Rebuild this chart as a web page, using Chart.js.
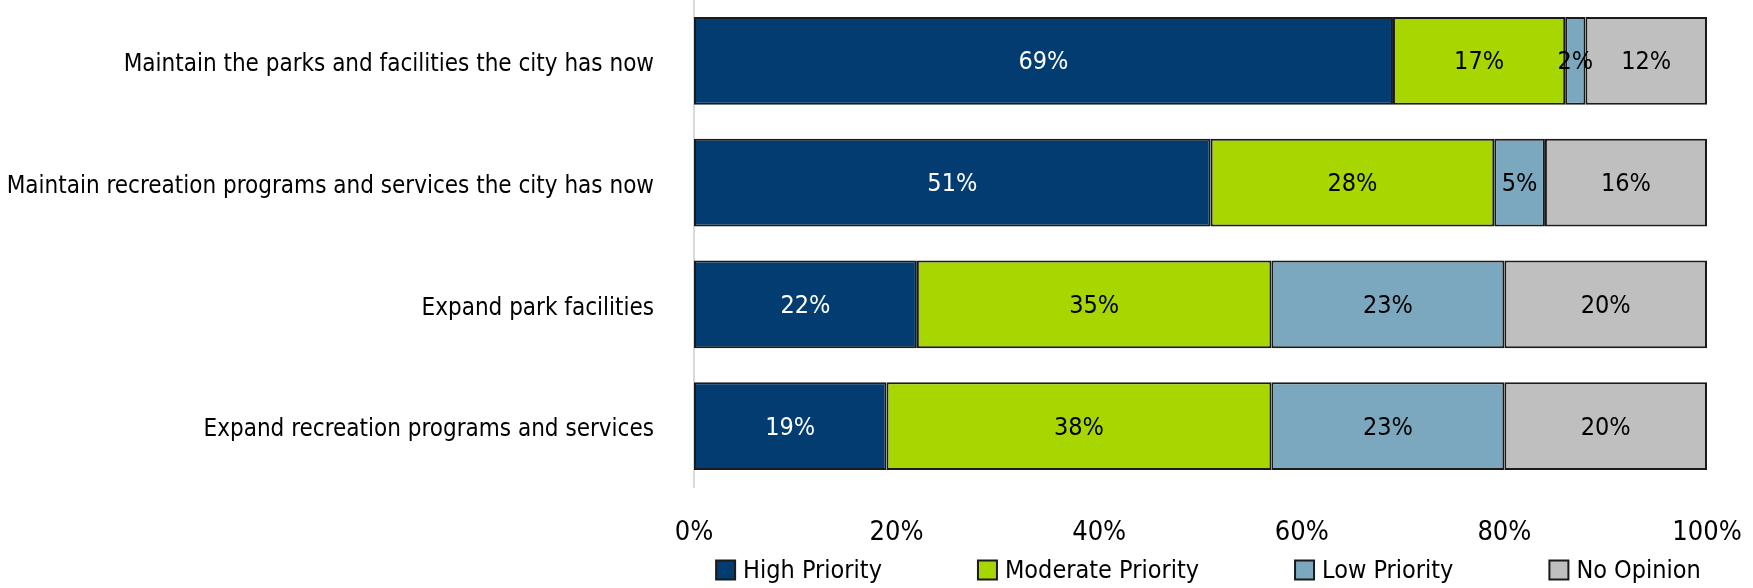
<!DOCTYPE html>
<html>
<head>
<meta charset="utf-8">
<script src="https://cdn.jsdelivr.net/npm/chart.js@4.4.0/dist/chart.umd.min.js"></script>
<style>
  html, body { margin: 0; padding: 0; background: #fff; }
  #wrap { width: 1753px; height: 588px; position: relative; }
</style>
</head>
<body>
<div id="wrap"><canvas id="priorityChart"></canvas></div>
<script>
var categories = [
  'Maintain the parks and facilities the city has now',
  'Maintain recreation programs and services the city has now',
  'Expand park facilities',
  'Expand recreation programs and services'
];
var seriesNames = ['High Priority', 'Moderate Priority', 'Low Priority', 'No Opinion'];
var highPriority = [69, 51, 22, 19];
var moderatePriority = [17, 28, 35, 38];
var lowPriority = [2, 5, 23, 23];
var noOpinion = [12, 16, 20, 20];
var xTickValues = [0, 20, 40, 60, 80, 100];

var seriesColors = ['#023c71', '#a8d600', '#7ba8be', '#bfbfbf'];
var labelColors = ['#ffffff', '#000000', '#000000', '#000000'];
var fontFamily = "'Liberation Sans Narrow', 'DejaVu Sans Condensed', sans-serif";

// value labels in the middle of every segment
var barLabels = {
  id: 'barLabels',
  afterDatasetsDraw: function(chart) {
    var ctx = chart.ctx;
    ctx.save();
    ctx.font = '25px ' + fontFamily;
    ctx.textAlign = 'center';
    ctx.textBaseline = 'middle';
    chart.data.datasets.forEach(function(ds, i) {
      var meta = chart.getDatasetMeta(i);
      meta.data.forEach(function(bar, j) {
        var c = bar.getCenterPoint();
        ctx.fillStyle = labelColors[i];
        ctx.fillText(ds.data[j] + '%', c.x, c.y + 2);
      });
    });
    ctx.restore();
  }
};

// legend spread out under the plot area, like the excel one
var bottomLegend = {
  id: 'bottomLegend',
  afterDraw: function(chart) {
    var ctx = chart.ctx;
    var area = chart.chartArea;
    var box = 19, gapText = 8, gapItem = 96;
    ctx.save();
    ctx.font = '25px ' + fontFamily;
    ctx.textBaseline = 'middle';
    ctx.textAlign = 'left';
    var widths = chart.data.datasets.map(function(ds) {
      return box + gapText + ctx.measureText(ds.label).width;
    });
    var total = widths.reduce(function(a, b) { return a + b; }, 0) + gapItem * (widths.length - 1);
    var x = (area.left + area.right) / 2 - total / 2 + 8;
    var y = chart.height - 18;
    chart.data.datasets.forEach(function(ds, i) {
      ctx.fillStyle = ds.backgroundColor;
      ctx.fillRect(x, y - box / 2, box, box);
      ctx.lineWidth = 2;
      ctx.strokeStyle = '#1a1a1a';
      ctx.strokeRect(x, y - box / 2, box, box);
      ctx.fillStyle = '#000';
      ctx.fillText(ds.label, x + box + gapText, y + 1);
      x += widths[i] + gapItem;
    });
    ctx.restore();
  }
};

var seriesData = [highPriority, moderatePriority, lowPriority, noOpinion];
var datasets = seriesNames.map(function(name, i) {
  return {
    label: name,
    data: seriesData[i],
    backgroundColor: seriesColors[i],
    borderColor: '#1a1a1a',
    borderWidth: 2,
    borderSkipped: false,
    categoryPercentage: 0.72,
    barPercentage: 1.0
  };
});

var ctx = document.getElementById('priorityChart');
var priorityChart = new Chart(ctx, {
  type: 'bar',
  data: { labels: categories, datasets: datasets },
  plugins: [barLabels, bottomLegend],
  options: {
    indexAxis: 'y',
    responsive: true,
    maintainAspectRatio: false,
    animation: false,
    layout: { padding: { top: 0, right: 46, bottom: 31, left: 0 } },
    plugins: {
      legend: { display: false },
      tooltip: { enabled: false }
    },
    scales: {
      x: {
        stacked: true,
        min: 0,
        max: 100,
        afterBuildTicks: function(scale) {
          scale.ticks = xTickValues.map(function(v) { return { value: v }; });
        },
        afterFit: function(scale) {
          scale.height = 70;
          scale.paddingLeft = 0;
          scale.paddingRight = 0;
        },
        grid: { display: false, drawTicks: false },
        border: { display: false },
        ticks: {
          color: '#000',
          padding: 30,
          maxRotation: 0,
          font: { family: fontFamily, size: 27 },
          callback: function(v) { return v + '%'; }
        }
      },
      y: {
        stacked: true,
        afterFit: function(scale) {
          scale.width = 694;
          scale.paddingTop = 0;
          scale.paddingBottom = 0;
        },
        grid: { display: false, drawTicks: false },
        border: { display: true, color: '#d9d9d9', width: 2 },
        ticks: {
          color: '#000',
          padding: 40,
          labelOffset: 4,
          font: { family: fontFamily, size: 24 }
        }
      }
    }
  }
});
</script>
</body>
</html>
